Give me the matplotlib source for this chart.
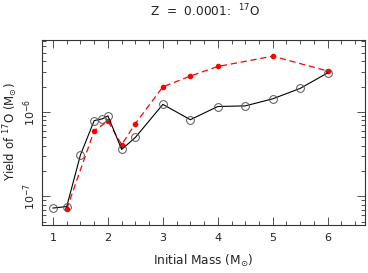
import matplotlib
matplotlib.use("Agg")
import matplotlib.pyplot as plt
from matplotlib.ticker import LogLocator, MultipleLocator, NullFormatter

mass_black = [1.0, 1.25, 1.5, 1.75, 1.9, 2.0, 2.25, 2.5, 3.0, 3.5, 4.0, 4.5, 5.0, 5.5, 6.0]
yield_black = [7.3e-8, 7.6e-8, 3.1e-7, 7.9e-7, 8.3e-7, 9.0e-7, 3.6e-7, 5.0e-7, 1.23e-6,
               8.1e-7, 1.16e-6, 1.18e-6, 1.43e-6, 1.9e-6, 2.9e-6]
mass_red = [1.25, 1.75, 2.0, 2.25, 2.5, 3.0, 3.5, 4.0, 5.0, 6.0]
yield_red = [7.1e-8, 6.0e-7, 7.8e-7, 4.1e-7, 7.3e-7, 1.98e-6, 2.66e-6, 3.45e-6, 4.57e-6, 3.05e-6]
xticks = [1, 2, 3, 4, 5, 6]

plt.rcParams['font.family'] = ['DejaVu Sans']
fig = plt.figure(figsize=(3.68, 2.73), dpi=100)
ax = fig.add_axes([42/368, 1 - 225/273, (365-42)/368, (225-40)/273])

ax.plot(mass_red, yield_red, color='red', ls=(0, (5, 3)), lw=0.9, marker='o', ms=3.0,
        mfc='red', mec='red', zorder=2)
ax.plot(mass_black, yield_black, color='black', lw=0.8, marker='o', ms=5.6,
        mfc='none', mec='#555555', mew=0.7, zorder=3)

ax.set_yscale('log')
ax.set_xlim(0.8, 6.68)
ax.set_ylim(4.6e-8, 7.1e-6)
ax.set_xticks(xticks)
ax.xaxis.set_minor_locator(MultipleLocator(0.25))
ax.yaxis.set_major_locator(LogLocator(base=10, numticks=10))
ax.yaxis.set_minor_locator(LogLocator(base=10, subs=range(2, 10), numticks=20))
ax.yaxis.set_minor_formatter(NullFormatter())
ax.tick_params(which='both', direction='in', top=True, right=True, labelsize=8, width=0.6,
               color='#333333', labelcolor='#222222')
ax.tick_params(which='major', length=6)
ax.tick_params(which='minor', length=3)
ax.tick_params(axis='x', pad=6)
ax.tick_params(axis='y', pad=3)
for lab in ax.get_yticklabels():
    lab.set_rotation(90)
    lab.set_va('center')
for sp in ax.spines.values():
    sp.set_linewidth(0.8)
    sp.set_color('#333333')

ax.set_xlabel(r'Initial Mass (M$_{\odot}$)', fontsize=8.7, labelpad=7, color='#222222')
fig.text(11/368, 1 - 132/273, r'Yield of $^{17}$O (M$_{\odot}$)', rotation=90,
         ha='center', va='center', fontsize=8.5, color='#222222')
fig.text(205/368, 1 - 11/273, r'Z  =  0.0001:  $^{17}$O', ha='center', va='center',
         fontsize=8.7, color='#222222')

fig.savefig('out.png', dpi=100)
